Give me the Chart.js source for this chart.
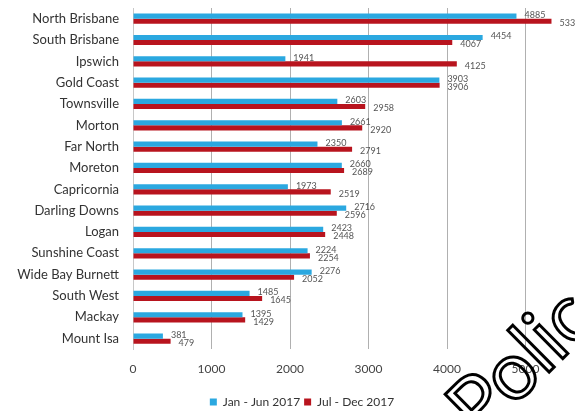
<!DOCTYPE html>
<html>
<head>
<meta charset="utf-8">
<script src="https://cdn.jsdelivr.net/npm/chart.js@4"></script>
<style>
  html, body { margin: 0; padding: 0; background: #fff; overflow: hidden; }
  #wrap { width: 620px; height: 411px; }
</style>
</head>
<body>
<div id="wrap"><canvas id="regionChart" width="620" height="411"></canvas></div>
<script>
const regions = ["North Brisbane", "South Brisbane", "Ipswich", "Gold Coast", "Townsville",
  "Morton", "Far North", "Moreton", "Capricornia", "Darling Downs", "Logan",
  "Sunshine Coast", "Wide Bay Burnett", "South West", "Mackay", "Mount Isa"];
const firstHalf = [4885, 4454, 1941, 3903, 2603, 2661, 2350, 2660, 1973, 2716, 2423, 2224, 2276, 1485, 1395, 381];
const secondHalf = [5331, 4067, 4125, 3906, 2958, 2920, 2791, 2689, 2519, 2596, 2448, 2254, 2052, 1645, 1429, 479];
const xTicks = [0, 1000, 2000, 3000, 4000, 5000, 6000];

const FONT = "Lato, 'Open Sans', sans-serif";

// value labels just past the end of each bar
const barLabels = {
  id: "barLabels",
  afterDatasetsDraw(chart) {
    const ctx = chart.ctx;
    ctx.save();
    ctx.font = "9px " + FONT;
    ctx.fillStyle = "#555";
    ctx.textBaseline = "middle";
    chart.data.datasets.forEach((ds, i) => {
      chart.getDatasetMeta(i).data.forEach((bar, j) => {
        ctx.fillText(ds.data[j], bar.x + 8, bar.y + (i === 0 ? -1 : 2));
      });
    });
    ctx.restore();
  }
};

// outlined stamp across the lower right corner
const stamp = {
  id: "stamp",
  afterDraw(chart) {
    const ctx = chart.ctx;
    ctx.save();
    ctx.translate(462, 422);
    ctx.rotate(-0.78);
    ctx.font = "80px " + FONT;
    ctx.lineWidth = 3;
    ctx.strokeStyle = "#000";
    ctx.strokeText("Police", 0, 0);
    ctx.restore();
  }
};

new Chart(document.getElementById("regionChart"), {
  type: "bar",
  data: {
    labels: regions,
    datasets: [
      { label: "Jan - Jun 2017", data: firstHalf, backgroundColor: "#2ba8e0" },
      { label: "Jul - Dec 2017", data: secondHalf, backgroundColor: "#b8141e" }
    ]
  },
  options: {
    indexAxis: "y",
    responsive: false,
    animation: false,
    categoryPercentage: 0.48,
    barPercentage: 1.0,
    layout: { padding: { top: 8, right: 16, bottom: -7, left: 0 } },
    scales: {
      x: {
        min: 0,
        max: 6000,
        afterBuildTicks(scale) {
          scale.ticks = xTicks.map(v => ({ value: v }));
        },
        afterFit(scale) {
          scale.height = 42.7;
          scale.paddingLeft = 0;
          scale.paddingRight = 0;
        },
        grid: { color: "#b0b0b0", drawTicks: false },
        border: { display: false },
        ticks: {
          padding: 13,
          color: "#444",
          font: { family: FONT, size: 12 },
          callback: v => (v < 6000 ? String(v) : "")
        }
      },
      y: {
        afterFit(scale) {
          scale.width = 133;
          scale.paddingTop = 0;
          scale.paddingBottom = 0;
        },
        grid: { display: false, drawTicks: false },
        border: { display: true, color: "#c8c8c8" },
        ticks: { padding: 14, color: "#333", font: { family: FONT, size: 13 } }
      }
    },
    plugins: {
      legend: {
        position: "bottom",
        labels: {
          boxWidth: 7,
          boxHeight: 7,
          padding: 4,
          color: "#333",
          font: { family: FONT, size: 12 }
        }
      },
      tooltip: { enabled: false }
    }
  },
  plugins: [barLabels, stamp]
});
</script>
</body>
</html>
